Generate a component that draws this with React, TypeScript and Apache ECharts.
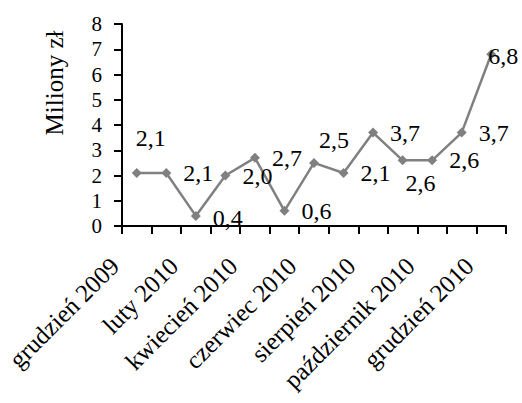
import React, { useEffect, useRef } from "react";
import * as echarts from "echarts";

const categories = [
  "grudzień 2009",
  "styczeń 2010",
  "luty 2010",
  "marzec 2010",
  "kwiecień 2010",
  "maj 2010",
  "czerwiec 2010",
  "lipiec 2010",
  "sierpień 2010",
  "wrzesień 2010",
  "październik 2010",
  "listopad 2010",
  "grudzień 2010",
];
const values = [2.1, 2.1, 0.4, 2.0, 2.7, 0.6, 2.5, 2.1, 3.7, 2.6, 2.6, 3.7, 6.8];
const yTicks = { min: 0, max: 8, interval: 1 };
const axisTitle = "Miliony zł";

// label offsets (style only) relative to default right placement
const labelOffsets: [number, number][] = [
  [-18, -35], [0, 0], [0, 2], [0, 0], [0, 0], [0, 0], [-12, -23],
  [0, 0], [0, 0], [-14, 23], [0, 0], [0, 0], [-20, 2],
];

const FONT = "'Liberation Serif', 'Times New Roman', serif";

export default function App() {
  const ref = useRef<HTMLDivElement>(null);
  useEffect(() => {
    if (!ref.current) return;
    const chart = echarts.init(ref.current, null, { renderer: "svg" });
    chart.setOption({
      animation: false,
      backgroundColor: "#ffffff",
      grid: {
        left: 122,
        right: 16,
        top: 24,
        bottom: 177,
        containLabel: false,
        outerBoundsMode: "none",
      },
      graphic: [
        {
          type: "text",
          x: 54,
          y: 83,
          rotation: Math.PI / 2,
          style: {
            text: axisTitle,
            fontFamily: FONT,
            fontSize: 25,
            fill: "#000",
            align: "center",
            verticalAlign: "middle",
          },
        },
      ],
      xAxis: {
        type: "category",
        data: categories,
        boundaryGap: true,
        axisLine: { lineStyle: { color: "#000", width: 2 } },
        axisTick: { show: true, length: 8, inside: false, interval: 0, lineStyle: { color: "#000", width: 2 } },
        axisLabel: {
          interval: 1,
          rotate: 45,
          margin: 14,
          padding: [0, 31, 0, 0],
          fontFamily: FONT,
          fontSize: 25,
          color: "#000",
          hideOverlap: false,
        },
        splitLine: { show: false },
      },
      yAxis: {
        type: "value",
        min: yTicks.min,
        max: yTicks.max,
        interval: yTicks.interval,
        axisLine: { show: true, lineStyle: { color: "#000", width: 2 } },
        axisTick: { show: true, length: 8, lineStyle: { color: "#000", width: 2 } },
        axisLabel: {
          margin: 20,
          fontFamily: FONT,
          fontSize: 21,
          showMinLabel: true,
          showMaxLabel: true,
          hideOverlap: false,
          color: "#000",
        },
        splitLine: { show: false },
      },
      series: [
        {
          type: "line",
          data: values.map((v, i) => ({
            value: v,
            label: { offset: labelOffsets[i] },
          })),
          symbol: "diamond",
          symbolSize: 10,
          lineStyle: { color: "#808080", width: 2.5 },
          itemStyle: { color: "#808080" },
          label: {
            show: true,
            position: "right",
            distance: 12,
            fontFamily: FONT,
            fontSize: 24,
            color: "#000",
            formatter: (p: any) => Number(p.value).toFixed(1).replace(".", ","),
          },
        },
      ],
    });
    return () => chart.dispose();
  }, []);
  return (
    <div
      ref={ref}
      style={{ position: "fixed", left: 0, top: 0, width: 522, height: 403 }}
    />
  );
}
